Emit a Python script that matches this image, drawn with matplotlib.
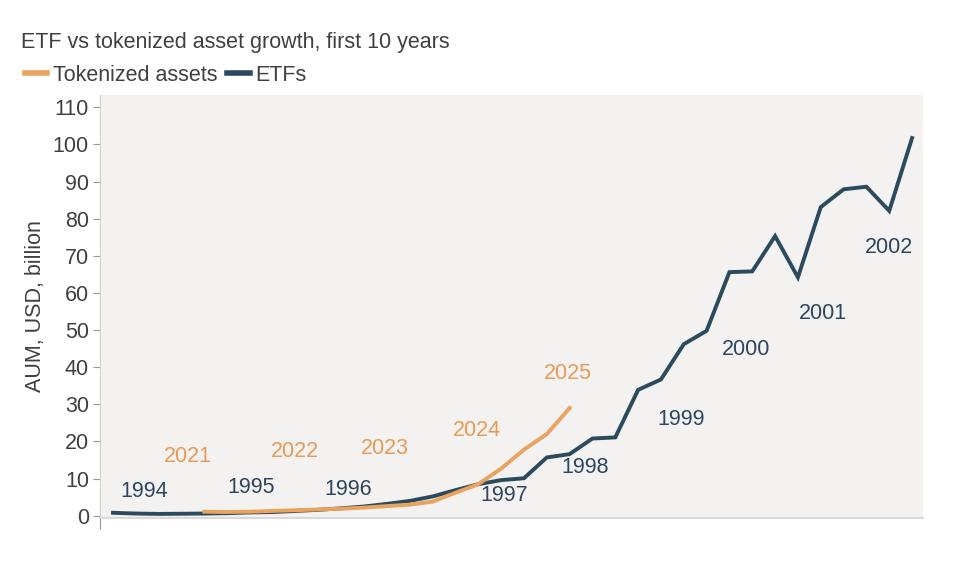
import matplotlib.pyplot as plt
import numpy as np

plt.rcParams["font.family"] = ["Liberation Sans", "DejaVu Sans"]
plt.rcParams["font.size"] = 15.5

# quarterly AUM, USD billion (ETFs 1994Q1-2002Q4, tokenized 2021Q1-2025Q1)
etf = [0.8, 0.6, 0.5, 0.55, 0.6, 0.7, 0.9, 1.0, 1.3, 1.6, 2.0, 2.5,
       3.2, 4.0, 5.2, 6.9, 8.5, 9.6, 10.1, 15.7, 16.6, 20.8, 21.1, 33.9,
       36.7, 46.2, 49.8, 65.6, 65.8, 75.3, 64.2, 83.1, 87.9, 88.6, 82.1, 101.7]
tokenized = [1.1, 1.0, 1.1, 1.3, 1.5, 1.7, 1.9, 2.2, 2.6, 3.0, 3.8, 6.2,
             8.5, 12.7, 17.8, 22.0, 29.0]
tok_start = 4  # tokenized series aligned with the 5th ETF quarter

etf_years = ["1994", "1995", "1996", "1997", "1998", "1999", "2000", "2001", "2002"]
tok_years = ["2021", "2022", "2023", "2024", "2025"]

# label positions (quarter index, value)
etf_lab_x = [1.36, 6.04, 10.29, 17.15, 20.7, 24.88, 27.73, 31.1, 34.0]
etf_lab_y = [6.5, 7.5, 7.1, 5.4, 13.0, 25.8, 44.8, 54.5, 72.2]
tok_lab_x = [3.29, 7.97, 11.91, 15.94, 19.93]
tok_lab_y = [15.9, 17.4, 18.1, 23.0, 38.2]

c_etf = "#2c4a5e"
c_tok = "#eaa25f"
c_etf_txt = "#2e4560"
c_tok_txt = "#e99a55"

fig = plt.figure(figsize=(9.57, 5.62), dpi=100)
ax = fig.add_axes([0.1045, 0.0783, 0.86, 0.7527])
ax.set_facecolor("#f3f2f0")

x_etf = np.arange(len(etf))
x_tok = np.arange(len(tokenized)) + tok_start

l_etf, = ax.plot(x_etf, etf, color=c_etf, lw=2.8, solid_joinstyle="miter")
l_tok, = ax.plot(x_tok, tokenized, color=c_tok, lw=2.8)

for t, x, y in zip(etf_years, etf_lab_x, etf_lab_y):
    ax.text(x, y, t, color=c_etf_txt, fontsize=15.5, ha="center", va="center")
for t, x, y in zip(tok_years, tok_lab_x, tok_lab_y):
    ax.text(x, y, t, color=c_tok_txt, fontsize=15.5, ha="center", va="center")

ax.set_xlim(-0.57, 35.48)
ax.set_ylim(-0.6, 113.3)
ax.set_yticks(np.arange(0, 111, 10))
ax.set_xticks([-0.57])
ax.set_xticklabels([""])
ax.tick_params(axis="y", colors="#999999", labelcolor="#404040", length=5,
               labelsize=15.5, pad=3)
ax.tick_params(axis="x", colors="#999999", length=8)

for s in ["top", "right"]:
    ax.spines[s].set_visible(False)
ax.spines["left"].set_color("#cfcfcf")
ax.spines["bottom"].set_color("#d9d9d9")
ax.spines["bottom"].set_linewidth(1.5)

ax.set_ylabel("AUM, USD, billion", color="#404040", fontsize=15.5, labelpad=5)

fig.text(0.022, 0.925, "ETF vs tokenized asset growth, first 10 years",
         color="#404040", fontsize=15.5, va="center", ha="left")
fig.legend([l_tok, l_etf], ["Tokenized assets", "ETFs"], loc="center left",
           bbox_to_anchor=(0.026, 0.866), ncol=2, frameon=False, fontsize=15.5,
           borderpad=0, borderaxespad=0,
           handlelength=1.05, handletextpad=0.25, columnspacing=0.45,
           labelcolor="#404040")
for h in fig.legends[0].legend_handles:
    h.set_linewidth(4)

fig.savefig("out.png", dpi=100)
